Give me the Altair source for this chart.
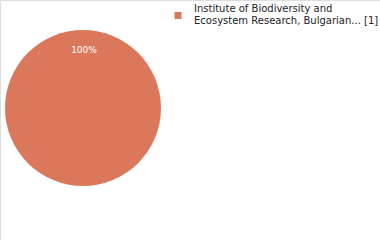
import altair as alt
import pandas as pd

labels = ["Institute of Biodiversity and\nEcosystem Research, Bulgarian... [1]"]
values = [1]
pct_labels = ["100%"]
colors = ["#db785b"]

df = pd.DataFrame({"label": labels, "value": values, "pct": pct_labels})

base = alt.Chart(df).encode(
    theta=alt.Theta("value:Q", stack=True),
)

pie = base.mark_arc(outerRadius=78, strokeWidth=0).encode(
    x=alt.value(83),
    y=alt.value(108),
    color=alt.Color(
        "label:N",
        scale=alt.Scale(domain=labels, range=colors),
        legend=alt.Legend(
            title=None,
            orient="none",
            legendX=173,
            legendY=4,
            symbolType="M-1,0.86L1,0.86L1,2.86L-1,2.86Z",
            symbolSize=49,
            symbolStrokeWidth=0,
            labelFont="DejaVu Sans",
            labelFontSize=10,
            labelColor="#222222",
            labelLimit=300,
            labelOffset=11,
            labelExpr="split(datum.label, '\\n')",
            labelBaseline="middle",
        ),
    ),
)

txt = alt.Chart(df).mark_text(
    font="DejaVu Sans", fontSize=9, color="#ffffff"
).encode(
    x=alt.value(84),
    y=alt.value(50),
    text="pct:N",
)

chart = alt.layer(pie, txt).properties(
    width=380, height=240, autosize=alt.AutoSizeParams(type="none"), padding=0
).configure_view(stroke=None).configure(background="#ffffff")

chart.save("out.html", embed_options={"renderer": "svg", "actions": False})
